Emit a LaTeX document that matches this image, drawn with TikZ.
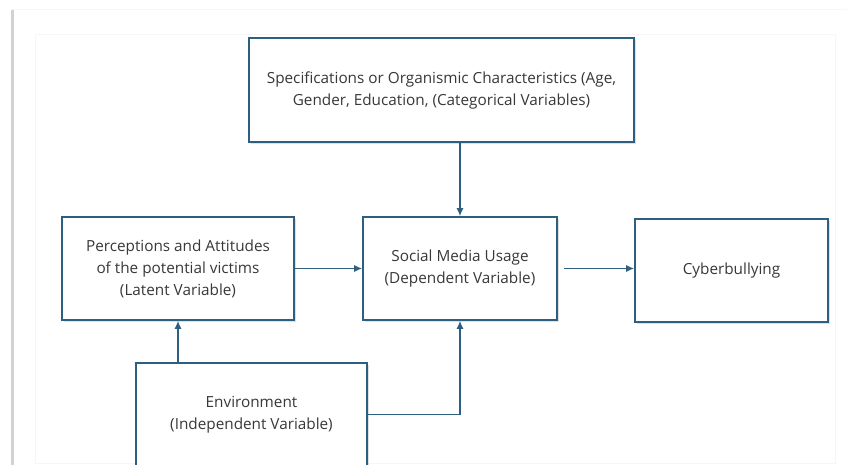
\documentclass[tikz,border=0pt]{standalone}
\usepackage{fontspec}
\setmainfont{Open Sans}
\usetikzlibrary{arrows.meta,shadows}
\definecolor{boxBlue}{HTML}{2F5F80}
\definecolor{textGray}{HTML}{383838}
\tikzset{
	varBox/.style={rectangle, draw=boxBlue, line width=1.6pt, fill=white, align=center, text=textGray, font=\fontsize{15.3}{22}\selectfont, drop shadow={opacity=0.25, shadow xshift=1.5pt, shadow yshift=-2.5pt}},
	flow/.style={-{Latex[length=8pt,width=7pt]}, draw=boxBlue, line width=1.4pt}
}
\begin{document}
\begin{tikzpicture}[x=1pt,y=-1pt]
	\useasboundingbox (0,0) rectangle (847,465);
	% page and panel
	\fill[white] (0,0) rectangle (847,465);
	\draw[gray!6, line width=1pt] (12,10) -- (847,10);
	\draw[gray!35, line width=3pt] (12,10) -- (12,465);
	\draw[gray!7, line width=1pt] (35,35) rectangle (835,463);

	\node[varBox, minimum width=385pt, minimum height=104pt](specBox) at (441.5,90){Specifications or Organismic Characteristics (Age,\\Gender, Education, (Categorical Variables)};
	\node[varBox, minimum width=232pt, minimum height=103pt](percBox) at (178,268.5){Perceptions and Attitudes\\of the potential victims\\(Latent Variable)};
	\node[varBox, minimum width=194pt, minimum height=103pt](usageBox) at (460,268.5){Social Media Usage\\(Dependent Variable)};
	\node[varBox, minimum width=193pt, minimum height=103pt](cyberBox) at (731.5,270.5){Cyberbullying};
	\node[varBox, minimum width=231pt, minimum height=103pt](envBox) at (251.5,414.5){Environment\\(Independent Variable)};

	% arrows
	\draw[flow] (specBox.south -| usageBox.north) -- (usageBox.north);
	\draw[flow] (percBox.east) -- (usageBox.west);
	\draw[flow, shorten <=6pt] (usageBox.east) -- (cyberBox.west |- usageBox.east);
	\draw[flow] (envBox.north -| percBox.south) -- (percBox.south);
	\draw[flow] (envBox.east) -| (usageBox.south);
\end{tikzpicture}
\end{document}
